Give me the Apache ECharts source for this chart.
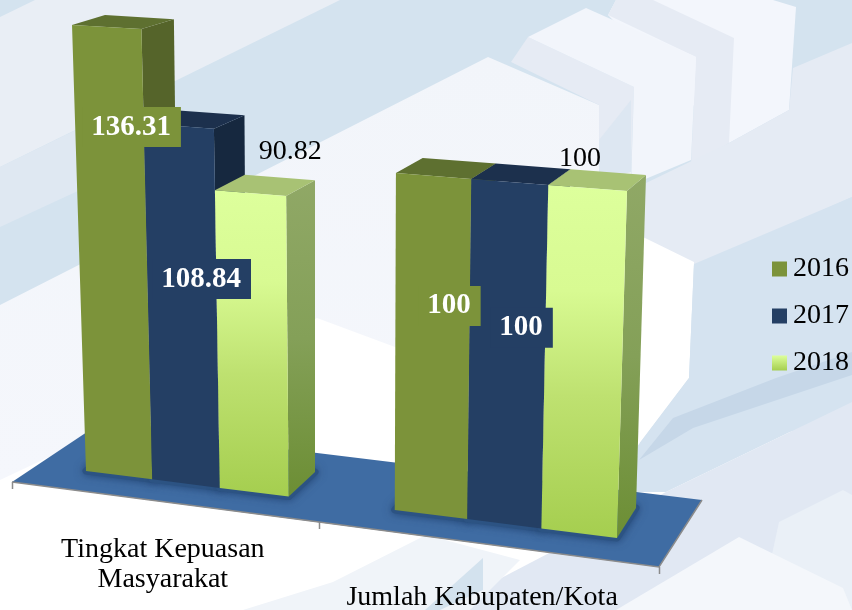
<!DOCTYPE html>
<html><head><meta charset="utf-8">
<style>html,body{margin:0;padding:0;background:#fff}#c{width:852px;height:610px}</style>
<script src="https://cdn.jsdelivr.net/npm/echarts@6/dist/echarts.min.js"></script>
</head><body><div id="c"></div>
<script>
const categories = ['Tingkat Kepuasan\nMasyarakat', 'Jumlah Kabupaten/Kota'];
const years = ['2016', '2017', '2018'];
const values2016 = [136.31, 100];
const values2017 = [108.84, 100];
const values2018 = [90.82, 100];
const seriesValues = [values2016, values2017, values2018];
const valueMax = 140;

// manual placement of the value labels, relative to the top of their bar
const labelOffsets = [[[25, 100], [16, 130]], [[23, 153], [12, 146]], [[40, -41], [-7.5, -29]]];
const labelBoxed = [[true, true], [true, true], [false, false]];
const categoryLabelOffsets = [[-23, 81.5], [-22, 74]];

const grad = (stops) => new echarts.graphic.LinearGradient(0, 0, 0, 1, stops.map((c, i) => ({offset: c[0], color: c[1]})));
const styles = [
  {front: '#7C933A', top: '#5E7030', side: '#55642A', legend: '#7C933A'},
  {front: '#243F64', top: '#1C304D', side: '#16283F', legend: '#243F64'},
  {front: grad([[0, '#DDFF9C'], [0.3, '#D8FA92'], [0.6, '#BEE170'], [1, '#A5CE4F']]),
   top: '#A8C274',
   side: grad([[0, '#90A866'], [0.5, '#84A058'], [1, '#6C8E34']]),
   legend: grad([[0, '#DDFF9C'], [1, '#A5CE4F']])}
];

// perspective: normalised plot position (s, t) -> picture
function homography(src, dst) {
  const A = [];
  src.forEach((p, i) => {
    const [x, y] = p, [u, v] = dst[i];
    A.push([x, y, 1, 0, 0, 0, -x * u, -y * u, u]);
    A.push([0, 0, 0, x, y, 1, -x * v, -y * v, v]);
  });
  for (let c = 0; c < 8; c++) {
    let m = c;
    for (let r = c + 1; r < 8; r++) if (Math.abs(A[r][c]) > Math.abs(A[m][c])) m = r;
    [A[c], A[m]] = [A[m], A[c]];
    for (let r = 0; r < 8; r++) {
      if (r === c) continue;
      const f = A[r][c] / A[c][c];
      for (let k = c; k < 9; k++) A[r][k] -= f * A[c][k];
    }
  }
  const h = A.map((row, i) => row[8] / row[i]);
  return (x, y) => {
    const w = h[6] * x + h[7] * y + 1;
    return [(h[0] * x + h[1] * y + h[2]) / w, (h[3] * x + h[4] * y + h[5]) / w];
  };
}
const sA = 1 / 12, sB = 11 / 12, sC = 5 / 12;
const tv = (v) => v / valueMax;
const frontPlane = homography(
  [[sA, 0], [sB, 0], [sA, tv(136.31)], [sB, tv(100)]],
  [[86, 471], [617, 538], [72, 25], [627, 191]]);
const backPlane = homography(
  [[sA, tv(136.31)], [sB, tv(100)], [sB, 0], [sC, 0]],
  [[105, 15], [646, 175], [636, 508], [315, 472]]);

function barItem(j) {
  return function (params, api) {
    const i = api.value(0), v = api.value(1);
    const cs = params.coordSys;
    const slot = api.size([1, 0])[0], barW = slot / 4.5;
    const c = api.coord([i, v]);
    const xl = c[0] + (j - 1.5) * barW, xr = xl + barW;
    const s1 = (xl - cs.x) / cs.width, s2 = (xr - cs.x) / cs.width;
    const t = (cs.y + cs.height - c[1]) / cs.height;
    const F = frontPlane, B = backPlane, st = styles[j];
    const order = (j + 1) * 10 + i * 100;
    const poly = (pts, fill, z2, extra) => ({type: 'polygon', z2, shape: {points: pts},
      style: Object.assign({fill, stroke: null}, extra || {})});
    const anchor = F((s1 + s2) / 2, t);
    const off = labelOffsets[j][i], lx = anchor[0] + off[0], ly = anchor[1] + off[1];
    const boxed = labelBoxed[j][i];
    return {type: 'group', children: [
      poly([F(s1, 0), F(s2, 0), B(s2, 0), B(s1, 0)], '#2C5383', 1,
        {stroke: '#2C5383', lineWidth: 7, lineJoin: 'round', shadowBlur: 9, shadowColor: 'rgba(36,70,118,0.9)'}),
      poly([B(s2, t), F(s2, t), F(s2, 0), B(s2, 0)], st.side, order),
      poly([F(s1, t), F(s2, t), B(s2, t), B(s1, t)], st.top, order + 1),
      poly([F(s1, t), F(s2, t), F(s2, 0), F(s1, 0)], st.front, order + 2),
      {type: 'text', z2: 1000 + j, style: {
        text: String(v), x: lx, y: ly, align: 'center', verticalAlign: 'middle',
        font: (boxed ? 'bold 29px' : '28px') + ' "Liberation Serif"',
        fill: boxed ? '#fff' : '#000',
        backgroundColor: boxed ? styles[j].legend : null,
        padding: boxed ? [5, 10, 6, 9] : 0
      }}
    ]};
  };
}

const bgPoly = (pts, fill) => ({type: 'polygon', silent: true, shape: {points: pts}, style: {fill}});
const vGrad = (a, b) => grad([[0, a], [1, b]]);
const background = [
  {type: 'rect', silent: true, shape: {x: 0, y: 0, width: 852, height: 610}, style: {fill: '#FFFFFF'}},
  bgPoly([[0, 0], [852, 0], [852, 420], [640, 460], [640, 250], [300, 200], [0, 310]], '#D4E3EF'),
  bgPoly([[35, 0], [340, 0], [0, 167], [0, 17]], '#E9EEF5'),
  bgPoly([[0, 167], [80, 128], [80, 190], [0, 227]], '#DFE8F2'),
  bgPoly([[0, 305], [488, 57], [599, 105], [631, 172], [631, 320], [395, 347], [317, 318], [85, 440], [0, 480]], vGrad('#F2F5FA', '#F5F7FC')),
  bgPoly([[608, 15], [616, 0], [773, 0], [796, 7], [789, 110], [729, 143]], '#F3F6FC'),
  bgPoly([[616, 0], [653, 0], [734, 38], [729, 143], [691, 165], [696, 57], [608, 15]], '#E6EBF4'),
  bgPoly([[511, 62], [528, 37], [634, 87], [631, 172], [599, 180], [599, 105]], '#E6EBF4'),
  bgPoly([[599, 140], [631, 100], [631, 172], [599, 180]], '#DDE7F2'),
  bgPoly([[528, 37], [586, 8], [696, 57], [691, 160], [631, 185], [634, 87]], '#F2F5FB'),
  bgPoly([[793, 68], [852, 43], [852, 197], [696, 267], [643, 237], [646, 183], [729, 143], [789, 110]], '#E5EBF4'),
  bgPoly([[643, 237], [694, 262], [689, 378], [636, 448]], '#FFFFFF'),
  bgPoly([[694, 264], [852, 197], [852, 402], [666, 492], [632, 492], [636, 448], [689, 378]], '#D5E3F0'),
  bgPoly([[639, 460], [673, 418], [776, 378], [852, 352], [852, 375], [693, 428]], '#C6D7E8'),
  bgPoly([[666, 492], [852, 402], [852, 610], [440, 610]], '#E1E8F3'),
  bgPoly([[426, 535], [520, 560], [470, 610], [243, 610], [333, 582]], '#F0F4F9'),
  bgPoly([[483, 558], [483, 590], [440, 610], [425, 610]], '#D3E2EE'),
  bgPoly([[779, 522], [843, 490], [852, 495], [852, 610], [760, 610]], '#EAF0F7'),
  bgPoly([[739, 537], [843, 588], [852, 610], [616, 610]], '#F4F7FB'),
  // floor
  bgPoly([[12, 482], [96, 426], [702, 500], [659, 567]], '#3F6CA3'),
  {type: 'polyline', silent: true, shape: {points: [[12, 482], [319, 522], [659, 567], [702, 500]]},
    style: {stroke: '#8B8B8B', lineWidth: 1.5, fill: null}},
  {type: 'line', silent: true, shape: {x1: 12.5, y1: 482, x2: 12.5, y2: 489}, style: {stroke: '#8B8B8B', lineWidth: 1.5}},
  {type: 'line', silent: true, shape: {x1: 319.5, y1: 522, x2: 319.5, y2: 529}, style: {stroke: '#8B8B8B', lineWidth: 1.5}},
  {type: 'line', silent: true, shape: {x1: 659.5, y1: 567, x2: 659.5, y2: 574}, style: {stroke: '#8B8B8B', lineWidth: 1.5}}
];

const barSeries = years.map((y, j) => ({
  type: 'custom', name: y, coordinateSystem: 'cartesian2d', clip: false, silent: true,
  itemStyle: {color: styles[j].legend},
  encode: {x: 0, y: 1},
  renderItem: barItem(j),
  data: categories.map((c, i) => [i, seriesValues[j][i]])
}));

const axisLabelSeries = {
  type: 'custom', name: 'axis', coordinateSystem: 'cartesian2d', clip: false, silent: true,
  encode: {x: 0, y: 1},
  renderItem: function (params, api) {
    const i = api.value(0), c = api.coord([i, 0]), cs = params.coordSys;
    const p = frontPlane((c[0] - cs.x) / cs.width, 0);
    const o = categoryLabelOffsets[i];
    return {type: 'text', z2: 900, style: {
      text: categories[i], x: p[0] + o[0], y: p[1] + o[1],
      align: 'center', verticalAlign: 'middle', lineHeight: 30,
      font: '28px "Liberation Serif"', fill: '#000'}};
  },
  data: categories.map((c, i) => [i, 0])
};

const chart = echarts.init(document.getElementById('c'), null, {renderer: 'canvas'});
chart.setOption({
  animation: false,
  backgroundColor: '#fff',
  graphic: {elements: background},
  grid: {left: 0, top: 0, width: 852, height: 610},
  xAxis: {type: 'category', data: categories, show: false},
  yAxis: {type: 'value', min: 0, max: valueMax, show: false},
  legend: {
    data: years, left: 772, top: 255, orient: 'vertical', selectedMode: false,
    icon: 'rect', itemWidth: 15, itemHeight: 15, itemGap: 19, padding: 0,
    textStyle: {fontFamily: 'Liberation Serif', fontSize: 28, color: '#000', lineHeight: 28, padding: [0, 0, 0, 1]}
  },
  series: barSeries.concat([axisLabelSeries])
});
</script></body></html>
